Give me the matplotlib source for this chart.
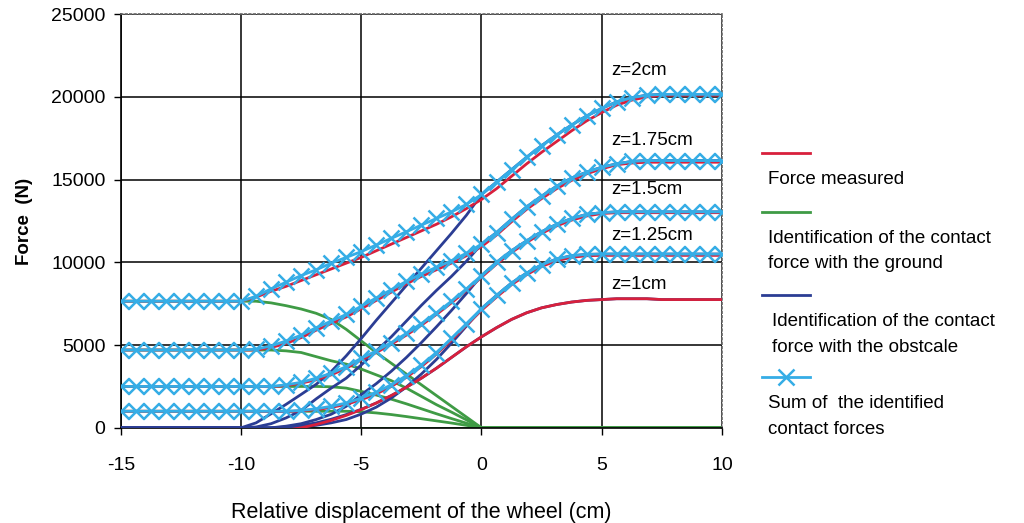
import numpy as np
import matplotlib
matplotlib.use("Agg")
import matplotlib.pyplot as plt
from matplotlib.lines import Line2D

plt.rcParams['font.family'] = ['Liberation Sans', 'DejaVu Sans']
plt.rcParams['axes.unicode_minus'] = False

nan = np.nan

# relative displacement of the wheel (cm)
x = [-15, -14.375, -13.75, -13.125, -12.5, -11.875, -11.25, -10.625,
     -10, -9.375, -8.75, -8.125, -7.5, -6.875, -6.25, -5.625,
     -5, -4.375, -3.75, -3.125, -2.5, -1.875, -1.25, -0.625,
     0, 0.625, 1.25, 1.875, 2.5, 3.125, 3.75, 4.375,
     5, 5.625, 6.25, 6.875, 7.5, 8.125, 8.75, 9.375,
     10]

# ---- z = 2 cm
measured_z2 = [7650, 7650, 7650, 7650, 7650, 7650, 7650, 7650,
               7650, 7900, 8250, 8550, 8900, 9250, 9600, 9950,
               10300, 10700, 11100, 11500, 11900, 12300, 12750, 13250,
               13800, 14450, 15200, 15950, 16650, 17300, 17950, 18550,
               19050, 19500, 19800, 20000, 20100, 20100, 20100, 20100,
               20100]
ground_z2 = [7650, 7650, 7650, 7650, 7650, 7650, 7650, 7650,
             7650, 7650, 7550, 7380, 7180, 6920, 6550, 5950,
             5250, 4550, 3900, 3250, 2600, 1950, 1300, 650,
             0, 0, 0, 0, 0, 0, 0, 0,
             0, 0, 0, 0, 0, 0, 0, 0,
             0]
obstacle_z2 = [0, 0, 0, 0, 0, 0, 0, 0,
               0, 300, 850, 1420, 2020, 2630, 3400, 4350,
               5400, 6500, 7550, 8600, 9650, 10700, 11750, 12850,
               14100, 14850, 15600, 16350, 17050, 17700, 18300, 18850,
               19300, 19700, 19950, 20100, 20150, 20150, 20150, 20150,
               20150]
sum_z2 = [7650, 7650, 7650, 7650, 7650, 7650, 7650, 7650,
          7650, 7950, 8400, 8800, 9200, 9550, 9950, 10300,
          10650, 11050, 11450, 11850, 12250, 12650, 13050, 13500,
          14100, 14850, 15600, 16350, 17050, 17700, 18300, 18850,
          19300, 19700, 19950, 20100, 20150, 20150, 20150, 20150,
          20150]

# ---- z = 1.75 cm
measured_z175 = [4700, 4700, 4700, 4700, 4700, 4700, 4700, 4700,
                 4700, 4700, 4850, 5100, 5450, 5900, 6300, 6700,
                 7200, 7700, 8200, 8700, 9150, 9550, 9950, 10400,
                 10950, 11650, 12450, 13200, 13850, 14450, 14950, 15350,
                 15650, 15900, 16000, 16050, 16050, 16050, 16050, 16050,
                 16050]
ground_z175 = [4700, 4700, 4700, 4700, 4700, 4700, 4700, 4700,
               4700, 4700, 4700, 4650, 4550, 4300, 4050, 3850,
               3550, 3200, 2850, 2400, 1900, 1400, 950, 480,
               0, 0, 0, 0, 0, 0, 0, 0,
               0, 0, 0, 0, 0, 0, 0, 0,
               0]
obstacle_z175 = [0, 0, 0, 0, 0, 0, 0, 0,
                 0, 50, 250, 600, 1050, 1750, 2400, 3000,
                 3800, 4650, 5500, 6450, 7400, 8300, 9150, 10070,
                 11100, 11800, 12600, 13350, 14000, 14600, 15100, 15450,
                 15750, 15950, 16100, 16150, 16150, 16150, 16150, 16150,
                 16150]
sum_z175 = [4700, 4700, 4700, 4700, 4700, 4700, 4700, 4700,
            4700, 4750, 4950, 5250, 5600, 6050, 6450, 6850,
            7350, 7850, 8350, 8850, 9300, 9700, 10100, 10550,
            11100, 11800, 12600, 13350, 14000, 14600, 15100, 15450,
            15750, 15950, 16100, 16150, 16150, 16150, 16150, 16150,
            16150]

# ---- z = 1.5 cm
measured_z15 = [2500, 2500, 2500, 2500, 2500, 2500, 2500, 2500,
                2500, 2500, 2480, 2550, 2700, 2900, 3200, 3600,
                4100, 4550, 5050, 5600, 6200, 6850, 7550, 8300,
                9100, 9900, 10600, 11200, 11750, 12200, 12550, 12800,
                12950, 13000, 13000, 13000, 13000, 13000, 13000, 13000,
                13000]
ground_z15 = [2500, 2500, 2500, 2500, 2500, 2500, 2500, 2500,
              2500, 2500, 2500, 2500, 2500, 2500, 2480, 2400,
              2200, 1980, 1730, 1450, 1150, 850, 560, 280,
              0, 0, 0, 0, 0, 0, 0, 0,
              0, 0, 0, 0, 0, 0, 0, 0,
              0]
obstacle_z15 = [0, 0, 0, 0, 0, 0, 0, 0,
                0, 0, 0, 100, 250, 500, 820, 1300,
                2000, 2670, 3420, 4250, 5150, 6100, 7090, 8120,
                9200, 10000, 10700, 11300, 11850, 12300, 12650, 12900,
                13000, 13050, 13050, 13050, 13050, 13050, 13050, 13050,
                13050]
sum_z15 = [2500, 2500, 2500, 2500, 2500, 2500, 2500, 2500,
           2500, 2500, 2500, 2600, 2750, 3000, 3300, 3700,
           4200, 4650, 5150, 5700, 6300, 6950, 7650, 8400,
           9200, 10000, 10700, 11300, 11850, 12300, 12650, 12900,
           13000, 13050, 13050, 13050, 13050, 13050, 13050, 13050,
           13050]

# ---- z = 1.25 cm
measured_z125 = [1000, 1000, 1000, 1000, 1000, 1000, 1000, 1000,
                 1000, 1000, 980, 980, 1020, 1100, 1230, 1420,
                 1700, 2050, 2500, 3050, 3700, 4450, 5300, 6200,
                 7100, 7900, 8650, 9250, 9750, 10100, 10300, 10400,
                 10420, 10420, 10420, 10420, 10420, 10420, 10420, 10420,
                 10420]
ground_z125 = [1000, 1000, 1000, 1000, 1000, 1000, 1000, 1000,
               1000, 1000, 1000, 1000, 1000, 1000, 1000, 1000,
               970, 900, 800, 680, 550, 420, 290, 150,
               0, 0, 0, 0, 0, 0, 0, 0,
               0, 0, 0, 0, 0, 0, 0, 0,
               0]
obstacle_z125 = [0, 0, 0, 0, 0, 0, 0, 0,
                 0, 0, 0, 0, 50, 150, 300, 500,
                 830, 1250, 1800, 2470, 3250, 4130, 5110, 6150,
                 7200, 8000, 8750, 9350, 9850, 10200, 10400, 10480,
                 10500, 10500, 10500, 10500, 10500, 10500, 10500, 10500,
                 10500]
sum_z125 = [1000, 1000, 1000, 1000, 1000, 1000, 1000, 1000,
            1000, 1000, 1000, 1000, 1050, 1150, 1300, 1500,
            1800, 2150, 2600, 3150, 3800, 4550, 5400, 6300,
            7200, 8000, 8750, 9350, 9850, 10200, 10400, 10480,
            10500, 10500, 10500, 10500, 10500, 10500, 10500, 10500,
            10500]

# ---- z = 1 cm (no ground force left)
measured_z1 = [nan, nan, nan, nan, nan, nan, nan, nan,
               nan, nan, -250, -150, 0, 200, 450, 750,
               1100, 1500, 1950, 2450, 3000, 3600, 4250, 4900,
               5500, 6050, 6550, 6950, 7250, 7450, 7600, 7700,
               7750, 7800, 7800, 7800, 7750, 7750, 7750, 7750,
               7750]
ground_z1 = [0] * 41
obstacle_z1 = [0, 0, 0, 0, 0, 0, 0, 0,
               0, 0, 0, 50, 150, 300, 520, 800,
               1120, 1500, 1950, 2450, 3000, 3600, 4250, 4900,
               5500, 6050, 6550, 6950, 7250, 7450, 7600, 7700,
               7750, 7800, 7800, 7800, 7750, 7750, 7750, 7750,
               7750]

measured = [measured_z2, measured_z175, measured_z15, measured_z125, measured_z1]
ground = [ground_z2, ground_z175, ground_z15, ground_z125, ground_z1]
obstacle = [obstacle_z2, obstacle_z175, obstacle_z15, obstacle_z125, obstacle_z1]
sums = [sum_z2, sum_z175, sum_z15, sum_z125]

z_labels = ["z=2cm", "z=1.75cm", "z=1.5cm", "z=1.25cm", "z=1cm"]
z_label_y = [21600, 17350, 14400, 11650, 8650]

c_red = "#d8203c"
c_green = "#3f9b45"
c_blue = "#2b3d94"
c_light = "#35ade6"

fig = plt.figure(figsize=(10.24, 5.23), dpi=100)
ax = fig.add_axes([0.118, 0.182, 0.587, 0.791])

for g in ground:
    ax.plot(x, g, color=c_green, lw=2, zorder=2)
for b in obstacle:
    ax.plot(x, b, color=c_blue, lw=2, zorder=3)
for m in measured:
    ax.plot(x, m, color=c_red, lw=2, zorder=3.5)
for s in sums:
    ax.plot(x, s, color=c_light, lw=2, marker='x', ms=11, mew=1.8, zorder=4)

for lab, yy in zip(z_labels, z_label_y):
    ax.text(5.4, yy, lab, fontsize=13.5, va='center', ha='left', zorder=5)

ax.set_xlim(-15, 10)
ax.set_ylim(0, 25000)
ax.set_xticks([-15, -10, -5, 0, 5, 10])
ax.set_yticks([0, 5000, 10000, 15000, 20000, 25000])
ax.tick_params(direction='out', length=5, width=1, labelsize=14, pad=6)
ax.tick_params(axis='x', pad=16)
ax.grid(True, color='black', lw=1.1)
ax.set_axisbelow(True)

for side in ['left', 'bottom']:
    ax.spines[side].set_color('black')
    ax.spines[side].set_linewidth(1.2)
for side in ['top', 'right']:
    ax.spines[side].set_color('#666666')
    ax.spines[side].set_linestyle(':')
    ax.spines[side].set_linewidth(1.2)

ax.set_xlabel("Relative displacement of the wheel (cm)", fontsize=15.5, labelpad=20)
ax.set_ylabel("Force  (N)", fontsize=13.5, fontweight='bold', labelpad=13)

# legend drawn by hand: line sample above each text
def fy(py):
    return 1 - py / 523.0

def fx(px):
    return px / 1024.0

legend_items = [
    (c_red, False, 153, ["Force measured"], 768),
    (c_green, False, 212, ["Identification of the contact", "force with the ground"], 768),
    (c_blue, False, 295, ["Identification of the contact", "force with the obstcale"], 772),
    (c_light, True, 377, ["Sum of  the identified", "contact forces"], 768),
]
for col, mk, py, lines, tx in legend_items:
    ln = Line2D([fx(762), fx(786), fx(810)], [fy(py)] * 3, transform=fig.transFigure,
                color=col, lw=2, marker='x' if mk else None, ms=11, mew=1.8,
                markevery=[1] if mk else None)
    fig.add_artist(ln)
    for i, t in enumerate(lines):
        fig.text(fx(tx), fy(py + 27 + 25 * i), t, fontsize=13.5, va='center', ha='left')

fig.savefig("out.png", dpi=100)
